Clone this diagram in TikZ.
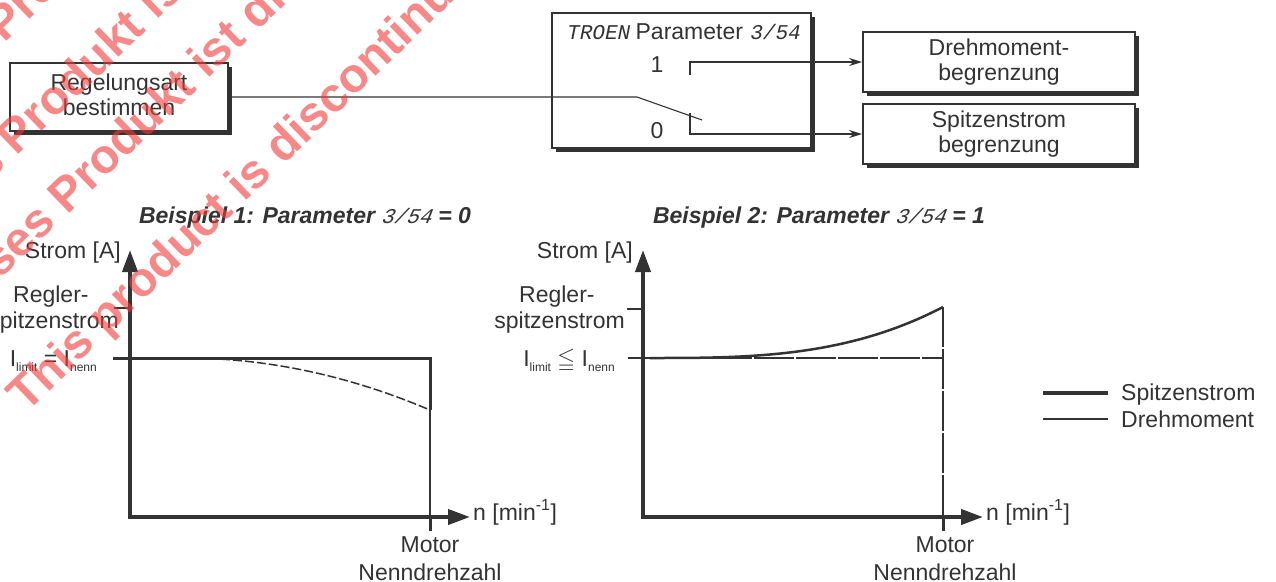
\documentclass[tikz,border=0pt]{standalone}
\usepackage{amssymb}
\usepackage{fontspec}
\setmainfont{Liberation Sans}
\newfontfamily\lcdfont[FakeSlant=0.2]{Liberation Mono}
\usetikzlibrary{arrows.meta,calc,shadows}
\definecolor{inkGray}{HTML}{333333}
\definecolor{markRed}{HTML}{F23A3A}
\newcommand{\lcd}[1]{{\lcdfont\mdseries\fontsize{21}{21}\selectfont #1}}
\newcommand{\idx}[1]{\raisebox{-5pt}{\fontsize{12}{12}\selectfont #1}}

\begin{document}
\begin{tikzpicture}[
  x=1pt, y=-1pt,
  >={Stealth[length=13pt,width=8pt]},
  every node/.style={font=\fontsize{23}{25}\selectfont, text=inkGray, inner sep=0pt},
  blockbox/.style={draw=inkGray, line width=1.8pt, fill=white, align=center,
    drop shadow={shadow xshift=4pt, shadow yshift=-4pt, fill=inkGray, opacity=1}},
  wire/.style={draw=inkGray, line width=1.1pt},
  axis/.style={draw=inkGray, line width=4pt, line join=miter,
    arrows={Triangle[length=22pt,width=15pt]-Triangle[length=22pt,width=15pt]}},
  peak/.style={draw=inkGray, line width=3pt},
  torque/.style={draw=inkGray, line width=1.5pt},
  headline/.style={font=\fontsize{23}{25}\selectfont\bfseries\itshape},
  watermark/.style={font=\fontsize{48}{48}\selectfont\bfseries, text=markRed,
    text opacity=0.6, rotate=44, anchor=base west}
]
  \useasboundingbox (0,0) rectangle (1276,581);
  \fill[white] (0,0) rectangle (1276,581);

  % Blocks
  \node[blockbox, minimum width=218pt, minimum height=68pt, text depth=4pt] (regel) at (119,97) {Regelungsart\\bestimmen};
  \node[blockbox, minimum width=259pt, minimum height=135pt] (sel) at (681.5,80.5) {};
  \node[blockbox, minimum width=272pt, minimum height=60pt] (drehm) at (999,62) {Drehmoment-\\begrenzung};
  \node[blockbox, minimum width=272pt, minimum height=60pt] (spitz) at (999,134) {Spitzenstrom\\begrenzung};

  % Selector contents
  \node[anchor=base] (selhead) at (683,39) {\lcd{TROEN} Parameter \lcd{3/54}};
  \node[anchor=base] (pos1) at (657,72) {1};
  \node[anchor=base] (pos0) at (657,138) {0};

  % Switch
  \coordinate (pivot) at (637,97);
  \coordinate (blade) at (702,120);
  \coordinate (c1) at (690,75);
  \coordinate (c0) at (690,113);
  \draw[wire] (regel.east) -- (pivot) -- (blade);
  \draw[wire,->] (c1) |- (drehm.west);
  \draw[wire,->] (c0) |- (spitz.west);

  % Example titles
  \node[headline, anchor=base] (title1) at (305,223) {Beispiel 1: Parameter \lcd{3/54} = 0};
  \node[headline, anchor=base] (title2) at (819,223) {Beispiel 2: Parameter \lcd{3/54} = 1};

  % Chart 1: peak current held, torque falls off
  \coordinate (o1) at (130,517);
  \coordinate (ytop1) at (130,250);
  \coordinate (xend1) at (470,517);
  \coordinate (lim1) at (113,358);
  \coordinate (lim1r) at (430,358);
  \coordinate (drop1) at (430,410);
  \coordinate (nenn1) at (430,517);
  \draw[torque] (drop1) -- (nenn1);
  \draw[torque, dash pattern=on 9pt off 3pt]
    plot[domain=0:1, samples=30, variable=\t] ({185+245*\t},{358+52*\t*\t});
  \draw[peak] (lim1) -- (lim1r) -- (drop1);
  \draw[torque] (114,308) -- (130,308);
  \draw[axis] (ytop1) -- (o1) -- (xend1);
  \draw[peak] (nenn1) -- ++(0,14);

  \node[anchor=base east] (strom1) at (121,258) {Strom [A]};
  \node[anchor=base west] (regA1) at (13,302) {Regler-};
  \node[anchor=base east] (regB1) at (119,328) {spitzenstrom};
  \node[anchor=base east] (ilim1) at (97,366) {I\idx{limit} = I\idx{nenn}};
  \node[anchor=base west] (nlab1) at (473,520) {n [min\textsuperscript{-1}]};
  \node[anchor=base] (motA1) at (430,552) {Motor};
  \node[anchor=base] (motB1) at (430,580) {Nenndrehzahl};

  % Chart 2: torque held, peak current rises
  \coordinate (o2) at (643,517);
  \coordinate (ytop2) at (643,250);
  \coordinate (xend2) at (983,517);
  \coordinate (lim2) at (628,358);
  \coordinate (lim2r) at (943,358);
  \coordinate (top2) at (943,307);
  \coordinate (nenn2) at (943,517);
  \draw[torque, dash pattern=on 40pt off 2pt] (lim2) -- (lim2r);
  \draw[torque, dash pattern=on 40pt off 2pt] (top2) -- (nenn2);
  \draw[peak, line width=2.5pt]
    plot[domain=0:1, samples=40, variable=\t] ({650+293*\t},{358-51*\t*\t*\t});
  \draw[torque] (627,309) -- (643,309);
  \draw[axis] (ytop2) -- (o2) -- (xend2);
  \draw[peak] (nenn2) -- ++(0,14);

  \node[anchor=base east] (strom2) at (633,258) {Strom [A]};
  \node[anchor=base west] (regA2) at (519,302) {Regler-};
  \node[anchor=base east] (regB2) at (625,328) {spitzenstrom};
  \node[anchor=base east] (ilim2) at (615,366) {I\idx{limit} $\leqq$ I\idx{nenn}};
  \node[anchor=base west] (nlab2) at (986,520) {n [min\textsuperscript{-1}]};
  \node[anchor=base] (motA2) at (945,552) {Motor};
  \node[anchor=base] (motB2) at (945,580) {Nenndrehzahl};

  % Legend
  \draw[peak, line width=3.5pt] (1043,393) -- (1108,393);
  \node[anchor=base west] (legpeak) at (1121,400) {Spitzenstrom};
  \draw[torque] (1043,419) -- (1108,419);
  \node[anchor=base west] (legtorque) at (1121,427) {Drehmoment};

  % Watermark
  \begin{scope}
    \clip (0,0) rectangle (1276,581);
    \foreach \wx/\wy/\wtext [count=\wi] in {26/414/This product is discontinued,
        0/280/ses Produkt ist discontinued, -12/184/s Produkt ist discontinued,
        4/44/Produkt ist discontinued}
      \node[watermark] (wm\wi) at (\wx,\wy) {\wtext};
  \end{scope}
\end{tikzpicture}
\end{document}
